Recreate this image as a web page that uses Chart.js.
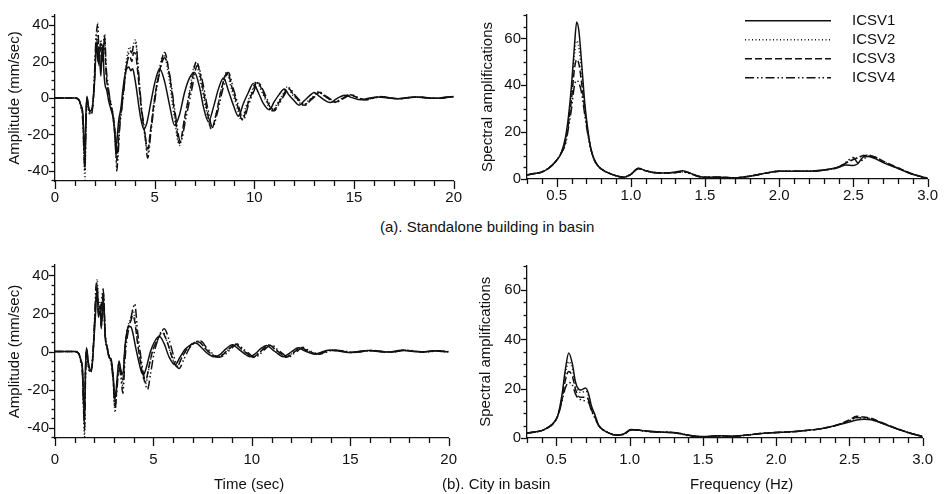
<!DOCTYPE html>
<html>
<head>
<meta charset="utf-8">
<script src="https://cdn.jsdelivr.net/npm/chart.js@4.4.1/dist/chart.umd.min.js"></script>
<style>
  body { margin: 0; background: #fff; width: 946px; height: 494px; overflow: hidden; position: relative;
         font-family: 'Liberation Sans', Arial, sans-serif; color: #111; }
  canvas { position: absolute; }
  .cap { position: absolute; font-size: 15px; white-space: nowrap; line-height: 1; }
</style>
</head>
<body>
<canvas id="ampTop" width="470" height="215" style="left:0;top:0"></canvas>
<canvas id="specTop" width="476" height="215" style="left:470px;top:0"></canvas>
<canvas id="ampBottom" width="470" height="244" style="left:0;top:250px"></canvas>
<canvas id="specBottom" width="476" height="244" style="left:470px;top:250px"></canvas>
<div class="cap" style="left:380px;top:219px">(a). Standalone building in basin</div>
<div class="cap" style="left:442px;top:476px">(b). City in basin</div>
<div class="cap" style="left:214px;top:476px">Time (sec)</div>
<div class="cap" style="left:690px;top:476px">Frequency (Hz)</div>
<script>
const seriesNames = ['ICSV1', 'ICSV2', 'ICSV3', 'ICSV4'];
const dashStyles = [[], [1, 2.5], [7, 3], [9, 3, 1.5, 2.5, 1.5, 3]];

const timeTicks = [0, 5, 10, 15, 20];
const ampTicks = [-40, -20, 0, 20, 40];
const freqTicks = [0.5, 1.0, 1.5, 2.0, 2.5, 3.0];
const specTicks = [0, 20, 40, 60];

// (a) standalone building - velocity time histories [time, amplitude]
const ampA1 = [[0,0],[1.0,0],[1.2,-1],[1.3,-4],[1.4,-9],[1.45,-22],[1.5,-33],[1.55,-10],[1.6,1],[1.7,-6],[1.8,-7],[1.9,-3],[2.0,12],[2.05,25],[2.1,30],[2.15,20],[2.2,28],[2.3,12],[2.35,24],[2.4,29],[2.45,15],[2.5,8],[2.6,4],[2.7,-2],[2.8,-6],[2.9,-10],[3.0,-20],[3.05,-30],[3.1,-24],[3.2,-12],[3.3,-6],[3.4,4],[3.5,12],[3.6,16],[3.7,17],[3.8,15],[3.9,16],[4.0,11],[4.1,4],[4.2,-4],[4.3,-11],[4.45,-17],[4.6,-14],[4.8,-3],[5.0,8],[5.25,16],[5.5,9],[5.75,-4],[6.0,-15],[6.25,-9],[6.5,3],[6.75,11],[7.0,14],[7.25,6],[7.45,-5],[7.7,-13],[7.95,-5],[8.2,5],[8.45,11],[8.7,4],[8.95,-4],[9.2,-10],[9.45,-3],[9.7,3],[9.95,8],[10.2,3],[10.45,-3],[10.75,-6.5],[11.0,-2],[11.25,2],[11.5,5],[11.75,1.5],[12.0,-1.5],[12.25,-4],[12.5,-1.5],[12.75,1],[13.0,3],[13.25,1],[13.5,-1],[13.8,-2.5],[14.1,-0.6],[14.3,0.6],[14.55,1.5],[14.9,0.2],[15.35,-1],[15.8,0],[16.2,0.6],[16.7,0],[17.1,-0.4],[17.6,0.2],[18.1,0.5],[18.6,0],[19.1,-0.2],[19.6,0.5],[20,0.8]];
const ampA2 = [[0,0],[1.0,0],[1.2,-1],[1.3,-5],[1.4,-12],[1.45,-30],[1.5,-45],[1.55,-18],[1.6,0],[1.7,-7],[1.8,-9],[1.9,-2],[2.0,16],[2.05,30],[2.1,36],[2.15,28],[2.2,20],[2.3,32],[2.4,22],[2.45,33],[2.5,35],[2.55,18],[2.65,6],[2.75,0],[2.85,-5],[2.95,-12],[3.05,-25],[3.1,-38],[3.15,-30],[3.25,-14],[3.35,-4],[3.45,6],[3.55,18],[3.65,25],[3.75,28],[3.85,24],[3.95,30],[4.05,32],[4.15,18],[4.25,5],[4.35,-8],[4.5,-20],[4.65,-30],[4.8,-18],[5.0,0],[5.2,14],[5.45,24],[5.7,12],[5.95,-8],[6.25,-26],[6.5,-12],[6.75,4],[7.05,19],[7.3,9],[7.55,-5],[7.85,-17],[8.1,-8],[8.35,5],[8.6,14],[8.85,5],[9.1,-4],[9.35,-12],[9.6,-4],[9.85,3],[10.1,9],[10.35,4],[10.6,-2],[10.9,-7],[11.15,-3],[11.4,1.5],[11.65,6],[11.9,2],[12.15,-1],[12.45,-4],[12.7,-1.5],[12.95,0.8],[13.2,3.5],[13.45,1.5],[13.7,-0.5],[14.0,-2.5],[14.3,-0.8],[14.5,0.5],[14.75,2],[15.1,0.3],[15.5,-1],[15.9,0],[16.3,0.8],[16.8,0],[17.2,-0.4],[17.7,0.2],[18.2,0.6],[18.7,0],[19.2,-0.2],[19.7,0.5],[20,0.7]];
const ampA3 = [[0,0],[1.0,0],[1.2,-1],[1.3,-4],[1.4,-10],[1.45,-25],[1.5,-38],[1.55,-14],[1.6,0],[1.7,-6],[1.8,-8],[1.9,-3],[2.0,14],[2.05,27],[2.1,32],[2.15,24],[2.2,18],[2.3,28],[2.4,20],[2.45,30],[2.5,32],[2.55,16],[2.65,5],[2.75,-1],[2.85,-6],[2.95,-12],[3.05,-24],[3.1,-34],[3.15,-28],[3.25,-13],[3.35,-5],[3.45,5],[3.55,15],[3.65,21],[3.75,23],[3.85,20],[3.95,25],[4.05,24],[4.15,14],[4.25,3],[4.35,-8],[4.5,-19],[4.65,-28],[4.8,-17],[5.0,0],[5.25,15],[5.5,25],[5.75,12],[6.0,-8],[6.25,-25],[6.5,-11],[6.8,5],[7.1,20],[7.35,9],[7.6,-5],[7.85,-17],[8.1,-8],[8.35,5],[8.65,14],[8.9,5],[9.15,-4],[9.4,-12],[9.65,-4],[9.9,3],[10.15,9],[10.4,4],[10.65,-2],[10.95,-7],[11.2,-3],[11.45,1.5],[11.7,5.5],[11.95,2],[12.2,-1],[12.5,-4],[12.75,-1.5],[13.0,0.8],[13.25,3.2],[13.5,1.3],[13.75,-0.5],[14.05,-2.3],[14.35,-0.7],[14.55,0.5],[14.8,1.8],[15.15,0.3],[15.55,-1],[15.95,0],[16.35,0.7],[16.85,0],[17.25,-0.4],[17.75,0.2],[18.25,0.6],[18.75,0],[19.25,-0.2],[19.75,0.5],[20,0.6]];
const ampA4 = [[0,0],[1.0,0],[1.2,-1],[1.3,-5],[1.4,-14],[1.45,-30],[1.5,-40],[1.55,-16],[1.6,-1],[1.7,-8],[1.8,-9],[1.9,-4],[2.0,18],[2.05,32],[2.1,38],[2.15,41],[2.2,25],[2.3,30],[2.4,20],[2.45,28],[2.5,34],[2.55,20],[2.65,8],[2.75,0],[2.85,-6],[2.95,-14],[3.05,-28],[3.1,-40],[3.15,-34],[3.25,-16],[3.35,-6],[3.45,4],[3.55,14],[3.65,22],[3.75,26],[3.85,25],[3.95,29],[4.05,30],[4.15,20],[4.25,6],[4.35,-6],[4.5,-18],[4.65,-33],[4.8,-20],[5.0,-2],[5.25,14],[5.5,22],[5.75,13],[6.0,-6],[6.3,-24],[6.55,-12],[6.85,4],[7.15,18],[7.4,9],[7.65,-5],[7.9,-16],[8.15,-8],[8.4,4],[8.7,14],[8.95,5],[9.2,-4],[9.45,-12],[9.7,-4],[9.95,3],[10.2,8.5],[10.45,4],[10.7,-2],[11.0,-7],[11.25,-3],[11.5,1.5],[11.75,5.5],[12.0,2],[12.25,-1],[12.55,-4],[12.8,-1.5],[13.05,0.8],[13.3,3.2],[13.55,1.3],[13.8,-0.5],[14.1,-2.3],[14.4,-0.7],[14.6,0.5],[14.85,1.8],[15.2,0.3],[15.6,-1],[16.0,0],[16.4,0.7],[16.9,0],[17.3,-0.4],[17.8,0.2],[18.3,0.6],[18.8,0],[19.3,-0.2],[19.8,0.5],[20,0.6]];

// (b) city in basin - velocity time histories [time, amplitude]
const ampB1 = [[0,0],[1.0,0],[1.2,-1],[1.3,-4],[1.4,-10],[1.45,-25],[1.5,-33],[1.55,-8],[1.6,2],[1.7,-6],[1.8,-10],[1.9,-6],[2.0,10],[2.05,18],[2.1,28],[2.15,33],[2.2,18],[2.3,22],[2.35,12],[2.45,28],[2.5,20],[2.55,8],[2.65,2],[2.75,-3],[2.85,-4],[2.95,-12],[3.05,-25],[3.15,-15],[3.25,-5],[3.35,-10],[3.45,-12],[3.55,2],[3.65,10],[3.75,13],[3.85,13],[3.95,10],[4.1,2],[4.25,-5],[4.4,-11],[4.5,-12],[4.65,-8],[4.85,0],[5.05,5],[5.3,8],[5.55,4],[5.8,-3],[6.1,-7],[6.35,-3],[6.6,1],[6.9,3.5],[7.15,4.5],[7.45,2],[7.75,-1],[8.1,-2.8],[8.4,-1.5],[8.7,1.5],[9.0,3.5],[9.3,1.5],[9.6,-1],[9.9,-2.8],[10.2,-1],[10.45,1.5],[10.75,3.2],[11.05,1],[11.3,-1],[11.6,-2.8],[11.9,-1],[12.1,0.5],[12.35,2],[12.6,0.8],[12.9,-0.5],[13.15,-1.4],[13.5,-0.5],[13.9,0.6],[14.4,0.3],[14.9,-0.5],[15.4,0],[15.9,0.5],[16.4,0],[16.9,-0.3],[17.6,0.6],[18.2,0],[18.7,-0.2],[19.2,0.4],[19.7,0],[20,-0.2]];
const ampB2 = [[0,0],[1.0,0],[1.2,-1],[1.3,-5],[1.4,-12],[1.45,-30],[1.5,-45],[1.55,-12],[1.6,1],[1.7,-8],[1.8,-11],[1.9,-4],[2.0,14],[2.05,25],[2.1,34],[2.15,38],[2.2,22],[2.3,26],[2.35,14],[2.45,30],[2.5,22],[2.55,10],[2.65,3],[2.75,-2],[2.85,-5],[2.95,-14],[3.05,-32],[3.15,-18],[3.25,-6],[3.35,-12],[3.45,-18],[3.55,0],[3.65,10],[3.75,15],[3.85,18],[3.95,22],[4.05,18],[4.2,5],[4.35,-5],[4.5,-14],[4.6,-17],[4.75,-10],[4.95,0],[5.2,6],[5.45,11],[5.7,5],[5.95,-3],[6.2,-8],[6.45,-3],[6.75,2],[7.05,4.5],[7.3,5.5],[7.6,2],[7.9,-1],[8.25,-3],[8.55,-1.5],[8.85,1.5],[9.15,4],[9.45,1.5],[9.75,-1],[10.05,-3],[10.35,-1],[10.6,1.5],[10.9,3.5],[11.2,1],[11.45,-1],[11.75,-3],[12.05,-1],[12.25,0.5],[12.5,2.2],[12.75,0.8],[13.05,-0.5],[13.3,-1.5],[13.65,-0.5],[14.05,0.8],[14.55,0.3],[15.05,-0.5],[15.55,0],[16.05,0.5],[16.55,0],[17.05,-0.3],[17.75,0.7],[18.35,0],[18.85,-0.2],[19.35,0.4],[19.85,0],[20,-0.1]];
const ampB3 = [[0,0],[1.0,0],[1.2,-1],[1.3,-4],[1.4,-11],[1.45,-28],[1.5,-38],[1.55,-10],[1.6,1],[1.7,-7],[1.8,-10],[1.9,-5],[2.0,12],[2.05,22],[2.1,30],[2.15,35],[2.2,20],[2.3,24],[2.35,13],[2.45,31],[2.5,24],[2.55,9],[2.65,2],[2.75,-3],[2.85,-5],[2.95,-13],[3.05,-28],[3.15,-17],[3.25,-6],[3.35,-11],[3.45,-15],[3.55,1],[3.65,10],[3.75,14],[3.85,16],[3.95,19],[4.05,16],[4.2,4],[4.35,-6],[4.5,-14],[4.6,-16],[4.75,-9],[4.95,0],[5.2,6],[5.45,10],[5.7,5],[5.95,-3],[6.2,-8],[6.45,-3],[6.75,2],[7.05,4.5],[7.3,5],[7.6,2],[7.9,-1],[8.25,-3],[8.55,-1.5],[8.85,1.5],[9.15,3.8],[9.45,1.5],[9.75,-1],[10.05,-3],[10.35,-1],[10.6,1.5],[10.9,3.3],[11.2,1],[11.45,-1],[11.75,-3],[12.05,-1],[12.25,0.5],[12.5,2.1],[12.75,0.8],[13.05,-0.5],[13.3,-1.5],[13.65,-0.5],[14.05,0.7],[14.55,0.3],[15.05,-0.5],[15.55,0],[16.05,0.5],[16.55,0],[17.05,-0.3],[17.75,0.6],[18.35,0],[18.85,-0.2],[19.35,0.4],[19.85,0],[20,-0.1]];
const ampB4 = [[0,0],[1.0,0],[1.2,-1],[1.3,-5],[1.4,-13],[1.45,-30],[1.5,-42],[1.55,-14],[1.6,0],[1.7,-9],[1.8,-11],[1.9,-6],[2.0,14],[2.05,28],[2.1,36],[2.15,30],[2.2,24],[2.3,20],[2.4,30],[2.45,33],[2.5,20],[2.55,8],[2.65,2],[2.75,-3],[2.85,-6],[2.95,-15],[3.05,-30],[3.15,-20],[3.25,-8],[3.35,-14],[3.45,-22],[3.55,-5],[3.65,6],[3.75,12],[3.85,17],[3.95,22],[4.05,25],[4.2,10],[4.35,-2],[4.5,-12],[4.7,-20],[4.85,-12],[5.05,0],[5.3,8],[5.55,12],[5.8,6],[6.05,-3],[6.3,-9],[6.55,-4],[6.85,2],[7.15,5],[7.4,5.5],[7.7,2],[8.0,-1],[8.35,-3],[8.65,-1.5],[8.95,1.5],[9.25,4],[9.55,1.5],[9.85,-1],[10.15,-3.2],[10.45,-1],[10.7,1.5],[11.0,3.5],[11.3,1],[11.55,-1],[11.85,-3],[12.15,-1],[12.35,0.5],[12.6,2.2],[12.85,0.8],[13.15,-0.5],[13.4,-1.5],[13.75,-0.5],[14.15,0.8],[14.65,0.3],[15.15,-0.5],[15.65,0],[16.15,0.5],[16.65,0],[17.15,-0.3],[17.85,0.7],[18.45,0],[18.95,-0.2],[19.45,0.4],[19.9,0],[20,0]];

// spectral amplifications
const freqA = [0.30,0.35,0.40,0.45,0.50,0.53,0.56,0.58,0.60,0.62,0.635,0.65,0.67,0.69,0.71,0.73,0.75,0.78,0.82,0.86,0.90,0.95,1.00,1.05,1.10,1.15,1.20,1.25,1.30,1.35,1.40,1.45,1.50,1.60,1.70,1.80,1.90,2.00,2.10,2.20,2.30,2.40,2.45,2.50,2.53,2.57,2.60,2.65,2.70,2.80,2.90,3.00];
const specA1 = [1.8,2.3,3,4.8,8,11,18,27,40,57,67,63,48,32,21,13,9,5.5,3.5,2.3,1.4,0.8,2,4.6,3.5,2.8,2.6,2.6,3,3.5,2.5,1.3,0.7,0.7,0.5,1.2,2.4,3.3,3.3,3.3,3.8,5,6,5.8,6.5,9.5,9.6,8.6,7,4.5,2,0.3];
const specA2 = [1.8,2.3,3,4.8,8,11,17,25,37,53,59,56,44,30,20,13,8.5,5.5,3.5,2.3,1.4,0.8,2,4.5,3.5,2.8,2.6,2.6,2.8,3,2.3,1.2,0.7,0.7,0.5,1.2,2.4,3.3,3.3,3.3,3.8,5,7,8.5,9.2,10,10.2,9.2,7.5,4.7,2.1,0.3];
const specA3 = [1.8,2.3,3,4.8,8,11,16,24,34,47,51,49,40,29,20,13,8.5,5.5,3.5,2.3,1.4,0.8,2,4.5,3.5,2.8,2.6,2.6,2.8,3.2,2.5,1.3,0.7,0.7,0.5,1.2,2.4,3.3,3.3,3.3,3.8,5,6.8,8.3,9,10,10,9.3,7.6,4.8,2.1,0.3];
const specA4 = [1.8,2.3,3,4.8,8,11,15,22,30,40,42,41,36,27,19,13,8.5,5.5,3.5,2.3,1.4,0.8,2,4.4,3.5,2.8,2.6,2.6,2.7,3,2.3,1.2,0.7,0.7,0.5,1.2,2.4,3.3,3.3,3.3,3.8,5.2,7.2,9.2,7,8.5,9.8,9.2,7.4,4.6,2,0.3];

const freqB = [0.30,0.35,0.40,0.45,0.48,0.51,0.54,0.56,0.585,0.61,0.63,0.65,0.67,0.70,0.72,0.74,0.76,0.79,0.82,0.86,0.91,0.96,1.01,1.06,1.10,1.20,1.30,1.35,1.40,1.50,1.60,1.70,1.80,1.90,2.00,2.10,2.20,2.30,2.40,2.50,2.55,2.60,2.65,2.70,2.80,2.90,3.00];
const specB1 = [2,2.4,3,4.5,6,9,18,27,34.5,30,23,20,19.5,20.3,18,13,10,5,3.3,2,1.2,1.6,3.4,3.2,2.9,2.5,2.1,1.7,1.2,0.6,0.9,0.7,1.2,1.8,2.2,2.5,3,3.7,5,6.5,7.3,7.6,7.4,6.5,4.2,2.2,0.6];
const specB2 = [2,2.4,3,4.5,6,9,17,25,31,28,22,19,18.5,19,17,12.5,9.5,5,3.3,2,1.2,1.6,3.3,3.2,2.8,2.4,2.2,1.8,1.2,0.5,0.9,0.7,1.2,1.8,2.2,2.5,3,3.7,5,7,8.2,8,7.6,6.5,4.3,2.2,0.6];
const specB3 = [2,2.4,3,4.5,6,9,16,23,27,25,20,17,16.5,16.5,15.5,11.5,9,5,3.3,2,1.1,1.5,3.2,3.2,2.8,2.4,2.2,1.8,1.1,0.4,0.9,0.7,1.2,1.8,2.2,2.5,3,3.7,5,7.3,8.8,8.5,8,6.8,4.4,2.3,0.6];
const specB4 = [2,2.4,3,4.5,6,9,15,20,22.5,21.5,18,16,15.5,15,14.5,11,8.5,5,3.3,2,1.1,1.5,3.2,3.2,2.8,2.4,2.2,1.6,1,0.4,0.9,0.7,1.2,1.8,2.2,2.5,3,3.7,5,7,8.3,8.2,7.8,6.6,4.3,2.2,0.6];

Chart.defaults.font.family = "'Liberation Sans', Arial, sans-serif";
Chart.defaults.font.size = 15;
Chart.defaults.color = '#111';

// major / minor tick marks drawn outside the axes
const tickMarks = {
    id: 'tickMarks',
    afterDraw(chart, args, opts) {
        const ctx = chart.ctx;
        const area = chart.chartArea;
        ctx.save();
        ctx.strokeStyle = '#111';
        ctx.lineWidth = 1.3;
        ['x', 'y'].forEach(function (key) {
            const sc = chart.scales[key];
            const o = opts[key];
            const first = Math.ceil(sc.min / o.minor - 1e-6);
            const last = Math.floor(sc.max / o.minor + 1e-6);
            for (let i = first; i <= last; i++) {
                const v = i * o.minor;
                const isMajor = Math.abs(v / o.major - Math.round(v / o.major)) < 1e-6;
                const len = isMajor ? o.majorLen : o.minorLen;
                const p = Math.round(sc.getPixelForValue(v)) + 0.5;
                ctx.beginPath();
                if (key === 'x') {
                    ctx.moveTo(p, area.bottom);
                    ctx.lineTo(p, area.bottom + len);
                } else {
                    ctx.moveTo(area.left, p);
                    ctx.lineTo(area.left - len, p);
                }
                ctx.stroke();
            }
        });
        ctx.restore();
    }
};

// legend with long line samples
const lineLegend = {
    id: 'lineLegend',
    afterDraw(chart, args, opts) {
        if (!opts.show) return;
        const ctx = chart.ctx;
        ctx.save();
        chart.data.datasets.forEach(function (ds, i) {
            const y = opts.top + i * opts.gap;
            ctx.strokeStyle = ds.borderColor;
            ctx.lineWidth = ds.borderWidth;
            ctx.setLineDash(ds.borderDash);
            ctx.beginPath();
            ctx.moveTo(opts.left, y);
            ctx.lineTo(opts.left + opts.length, y);
            ctx.stroke();
            ctx.setLineDash([]);
            ctx.fillStyle = '#111';
            ctx.font = "15px 'Liberation Sans', Arial, sans-serif";
            ctx.textBaseline = 'middle';
            ctx.fillText(ds.label, opts.left + opts.length + opts.textGap, y);
        });
        ctx.restore();
    }
};

function toPoints(pairs) {
    return pairs.map(p => ({x: p[0], y: p[1]}));
}

function zipPoints(xs, ys) {
    return xs.map((x, i) => ({x: x, y: ys[i]}));
}

function buildChart(id, seriesData, cfg) {
    return new Chart(document.getElementById(id), {
        type: 'line',
        data: {
            datasets: seriesData.map(function (pts, i) {
                return {
                    label: seriesNames[i],
                    data: pts,
                    borderColor: '#111',
                    borderWidth: 1.5,
                    borderDash: dashStyles[i],
                    pointRadius: 0,
                    cubicInterpolationMode: 'monotone',
                    fill: false
                };
            })
        },
        options: {
            responsive: false,
            animation: false,
            devicePixelRatio: 1,
            layout: {padding: cfg.padding},
            plugins: {
                legend: {display: false},
                tooltip: {enabled: false},
                tickMarks: cfg.marks,
                lineLegend: cfg.legend || {show: false}
            },
            scales: {
                x: {
                    type: 'linear',
                    min: cfg.xMin,
                    max: cfg.xMax,
                    grid: {display: false, drawTicks: false},
                    border: {display: true, color: '#111', width: 1.3},
                    afterBuildTicks: s => { s.ticks = cfg.xTicks.map(v => ({value: v})); },
                    afterFit: s => { s.height = cfg.xHeight; },
                    ticks: {padding: cfg.xPad, maxRotation: 0, autoSkip: false, callback: cfg.xFmt}
                },
                y: {
                    type: 'linear',
                    min: cfg.yMin,
                    max: cfg.yMax,
                    grid: {display: false, drawTicks: false},
                    border: {display: true, color: '#111', width: 1.3},
                    afterBuildTicks: s => { s.ticks = cfg.yTicks.map(v => ({value: v})); },
                    afterFit: s => { s.width = cfg.yWidth; },
                    ticks: {padding: 6, autoSkip: false, callback: v => String(v)},
                    title: {display: true, text: cfg.yTitle, padding: {top: cfg.titlePad, bottom: 0}, font: {size: 15}}
                }
            }
        },
        plugins: [tickMarks, lineLegend]
    });
}

const timeMarks = {
    x: {minor: 1, major: 5, minorLen: 5, majorLen: 8},
    y: {minor: 5, major: 20, minorLen: 3.5, majorLen: 6}
};
const freqMarks = {
    x: {minor: 0.1, major: 0.5, minorLen: 5, majorLen: 8},
    y: {minor: 5, major: 20, minorLen: 3.5, majorLen: 6}
};

buildChart('ampTop', [ampA1, ampA2, ampA3, ampA4].map(toPoints), {
    padding: {top: 7, right: 13, left: 0, bottom: 0},
    xMin: 0, xMax: 20, xTicks: timeTicks, xFmt: v => String(v), xHeight: 34, xPad: 8,
    yMin: -45.5, yMax: 45.5, yTicks: ampTicks, yWidth: 55,
    yTitle: 'Amplitude (mm/sec)', titlePad: 5.5, marks: timeMarks
});

buildChart('specTop', [specA1, specA2, specA3, specA4].map(v => zipPoints(freqA, v)), {
    padding: {top: 7, right: 17, left: 0, bottom: 0},
    xMin: 0.3, xMax: 3.0, xTicks: freqTicks, xFmt: v => v.toFixed(1), xHeight: 36, xPad: 8,
    yMin: 0, yMax: 70, yTicks: specTicks, yWidth: 57,
    yTitle: 'Spectral amplifications', titlePad: 8.5, marks: freqMarks,
    legend: {show: true, left: 275, length: 86, top: 20.7, gap: 19, textGap: 21}
});

buildChart('ampBottom', [ampB1, ampB2, ampB3, ampB4].map(toPoints), {
    padding: {top: 15, right: 13, left: 0, bottom: 0},
    xMin: 0, xMax: 20, xTicks: timeTicks, xFmt: v => String(v), xHeight: 56, xPad: 13,
    yMin: -45.5, yMax: 45.5, yTicks: ampTicks, yWidth: 55,
    yTitle: 'Amplitude (mm/sec)', titlePad: 5.5, marks: timeMarks
});

buildChart('specBottom', [specB1, specB2, specB3, specB4].map(v => zipPoints(freqB, v)), {
    padding: {top: 15.5, right: 17, left: 0, bottom: 0},
    xMin: 0.3, xMax: 3.0, xTicks: freqTicks, xFmt: v => v.toFixed(1), xHeight: 56, xPad: 13,
    yMin: 0, yMax: 70, yTicks: specTicks, yWidth: 57,
    yTitle: 'Spectral amplifications', titlePad: 6.5, marks: freqMarks
});
</script>
</body>
</html>
